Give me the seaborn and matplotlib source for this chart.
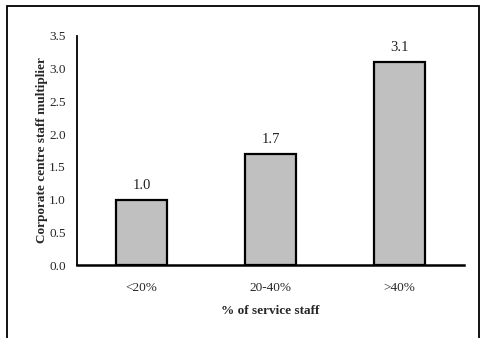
import matplotlib
matplotlib.use("Agg")
import matplotlib.pyplot as plt
import seaborn as sns
import pandas as pd
from matplotlib.patches import Rectangle

categories = ["<20%", "20-40%", ">40%"]
multipliers = [1.0, 1.7, 3.1]
y_ticks = [0.0, 0.5, 1.0, 1.5, 2.0, 2.5, 3.0, 3.5]

sns.set_theme(style="white")
plt.rcParams["font.family"] = ["Liberation Serif", "DejaVu Serif"]

df = pd.DataFrame({"group": categories, "value": multipliers})

fig = plt.figure(figsize=(4.82, 3.38), dpi=100)
ax = fig.add_axes([77 / 482, 1 - 265 / 338, (464 - 77) / 482, (265 - 36) / 338])

sns.barplot(data=df, x="group", y="value", order=categories, color="#c0c0c0",
            saturation=1, width=0.4, edgecolor="black", linewidth=1.6, ax=ax)

for i, v in enumerate(multipliers):
    ax.text(i, v + 0.12, f"{v:.1f}", ha="center", va="bottom", fontsize=10.5, color="#222222")

ax.set_xlim(-0.5, 2.5)
ax.set_ylim(0, 3.5)
ax.set_yticks(y_ticks)
ax.set_yticklabels([f"{t:.1f}" for t in y_ticks], fontsize=9.5)
ax.tick_params(axis="x", labelsize=9.5, pad=12, length=0)
ax.tick_params(axis="y", pad=8, length=0)

ax.set_xlabel("% of service staff", fontsize=9.5, fontweight="bold", labelpad=8)
ax.set_ylabel("Corporate centre staff multiplier", fontsize=9.5, fontweight="bold", labelpad=1)

for side in ["top", "right"]:
    ax.spines[side].set_visible(False)
ax.spines["left"].set_linewidth(1.3)
ax.spines["bottom"].set_linewidth(1.8)
for side in ["left", "bottom"]:
    ax.spines[side].set_color("black")

# outer frame around the chart area (open at the bottom edge)
frame = Rectangle((7, -20), 472, 338 - 6 + 20, transform=None, fill=False,
                  edgecolor="black", linewidth=1.3)
fig.patches.append(frame)

fig.savefig("out.png", dpi=100)
